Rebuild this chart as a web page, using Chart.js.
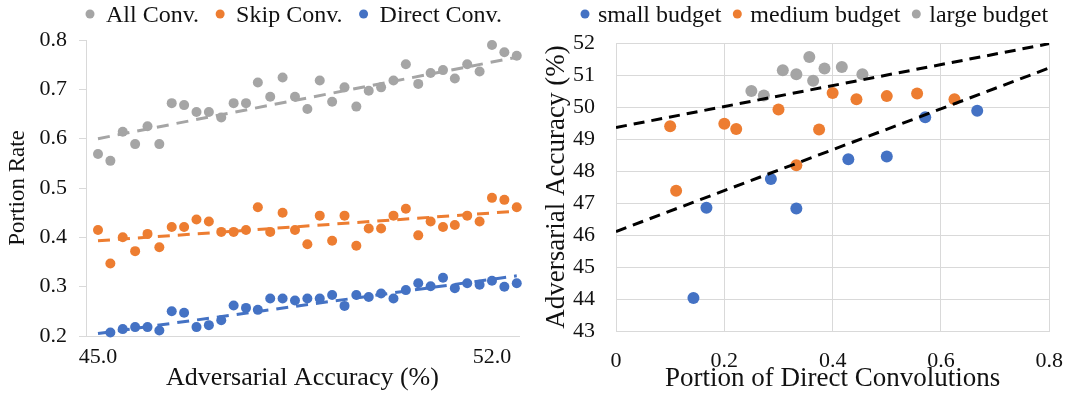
<!DOCTYPE html>
<html>
<head>
<meta charset="utf-8">
<script src="https://cdn.jsdelivr.net/npm/chart.js@4"></script>
<style>
  body { margin: 0; background: #fff; }
  #wrap { position: relative; width: 1080px; height: 397px; }
  .pane { position: absolute; top: 0; width: 540px; height: 397px; }
</style>
</head>
<body>
<div id="wrap">
  <div class="pane" style="left:0"><canvas id="portionChart" width="540" height="397"></canvas></div>
  <div class="pane" style="left:540px"><canvas id="budgetChart" width="540" height="397"></canvas></div>
</div>
<script>
'use strict'

// Left chart: portion rate vs adversarial accuracy
const accuracy = [45.00, 45.22, 45.44, 45.66, 45.88, 46.09, 46.31, 46.53, 46.75, 46.97, 47.19, 47.41,
    47.63, 47.84, 48.06, 48.28, 48.50, 48.72, 48.94, 49.16, 49.38, 49.59, 49.81, 50.03,
    50.25, 50.47, 50.69, 50.91, 51.13, 51.34, 51.56, 51.78, 52.00, 52.22, 52.44]
const allConv = [0.569, 0.555, 0.614, 0.589, 0.625, 0.589, 0.672, 0.668, 0.654, 0.654, 0.643, 0.672,
    0.672, 0.714, 0.685, 0.724, 0.685, 0.660, 0.718, 0.675, 0.704, 0.665, 0.697, 0.704,
    0.718, 0.751, 0.711, 0.733, 0.739, 0.722, 0.751, 0.736, 0.790, 0.775, 0.768]
const skipConv = [0.415, 0.347, 0.400, 0.372, 0.407, 0.380, 0.421, 0.421, 0.436, 0.432, 0.411, 0.411,
    0.415, 0.461, 0.411, 0.450, 0.415, 0.386, 0.444, 0.393, 0.444, 0.383, 0.418, 0.418,
    0.444, 0.458, 0.404, 0.432, 0.421, 0.425, 0.444, 0.432, 0.480, 0.476, 0.461]
const directConv = [null, 0.207, 0.214, 0.218, 0.218, 0.211, 0.250, 0.247, 0.218, 0.222, 0.232, 0.262,
    0.257, 0.253, 0.276, 0.276, 0.272, 0.276, 0.276, 0.283, 0.261, 0.283, 0.279, 0.286,
    0.276, 0.293, 0.307, 0.301, 0.318, 0.297, 0.307, 0.304, 0.312, 0.300, 0.307]
// trend lines, value at first and last accuracy
const allTrend = [0.600, 0.765]
const skipTrend = [0.393, 0.453]
const directTrend = [0.205, 0.322]
const accTicks = [45, 52]

// Right chart: accuracy vs portion of direct convolutions
const smallX = [0.143, 0.167, 0.286, 0.333, 0.429, 0.500, 0.571, 0.667]
const smallY = [44.03, 46.85, 47.75, 46.83, 48.37, 48.45, 49.68, 49.88]
const mediumX = [0.100, 0.111, 0.200, 0.222, 0.300, 0.333, 0.375, 0.400, 0.444, 0.500, 0.556, 0.625]
const mediumY = [49.40, 47.38, 49.48, 49.31, 49.92, 48.18, 49.30, 50.44, 50.24, 50.34, 50.42, 50.24]
const largeX = [0.250, 0.273, 0.308, 0.333, 0.357, 0.364, 0.385, 0.417, 0.455]
const largeY = [50.50, 50.36, 51.15, 51.02, 51.56, 50.82, 51.20, 51.25, 51.02]
const trendX = [0, 0.8]
const upperTrend = [49.36, 51.98]
const lowerTrend = [46.11, 51.22]

const GRAY = '#A5A5A5'
const ORANGE = '#ED7D31'
const BLUE = '#4472C4'
const GRID = '#d9d9d9'
const SERIF = '"Liberation Serif", "Times New Roman", serif'

Chart.defaults.font.family = SERIF
Chart.defaults.color = '#111'

function pts(xs, ys) {
    return xs.map((x, i) => ({x: x, y: ys[i]}))
}

function trend(xs, ys, color, dash) {
    return {
        type: 'line',
        data: pts(xs, ys),
        borderColor: color,
        borderWidth: 3,
        borderDash: dash,
        pointRadius: 0,
        fill: false,
        order: -1
    }
}

function dots(label, xs, ys, color, r) {
    return {
        label: label,
        inLegend: true,
        data: pts(xs, ys),
        backgroundColor: color,
        borderWidth: 0,
        pointRadius: r,
        pointHoverRadius: r,
        clip: false
    }
}

// simple dot legend drawn at the top of each chart
const dotLegend = {
    id: 'dotLegend',
    afterDraw(chart, args, opts) {
        let ctx = chart.ctx
        ctx.save()
        ctx.font = '24px ' + SERIF
        ctx.textBaseline = 'alphabetic'
        let x = opts.x
        chart.data.datasets.forEach(ds => {
            if (!ds.inLegend) return
            ctx.fillStyle = ds.backgroundColor
            ctx.beginPath()
            ctx.arc(x, opts.y - 8, 4.5, 0, Math.PI * 2)
            ctx.fill()
            ctx.fillStyle = '#111'
            ctx.fillText(ds.label, x + opts.textGap, opts.y)
            x += opts.textGap + ctx.measureText(ds.label).width + opts.gap
        })
        ctx.restore()
    }
}

const firstLast = [accuracy[0], accuracy[accuracy.length - 1]]

let portionChart = new Chart(document.getElementById('portionChart'), {
    type: 'scatter',
    data: {
        datasets: [
            trend(firstLast, allTrend, GRAY, [12, 8]),
            trend(firstLast, skipTrend, ORANGE, [12, 8]),
            trend(firstLast, directTrend, BLUE, [12, 8]),
            dots('All Conv.', accuracy, allConv, GRAY, 5),
            dots('Skip Conv.', accuracy, skipConv, ORANGE, 5),
            dots('Direct Conv.', accuracy, directConv, BLUE, 5)
        ]
    },
    plugins: [dotLegend],
    options: {
        responsive: false,
        animation: false,
        devicePixelRatio: 1,
        layout: {padding: {top: 40, right: 21, left: 0, bottom: 3}},
        plugins: {
            legend: {display: false},
            tooltip: {enabled: false},
            dotLegend: {x: 90, y: 22, textGap: 16, gap: 21}
        },
        scales: {
            x: {
                type: 'linear',
                min: 44.787,
                max: 52.48,
                afterBuildTicks: s => { s.ticks = accTicks.map(v => ({value: v})) },
                afterFit: s => { s.height = 58 },
                grid: {display: false},
                border: {display: true, color: GRID},
                ticks: {padding: 0, font: {size: 22}, callback: v => v.toFixed(1)},
                title: {display: true, text: 'Adversarial Accuracy (%)', font: {size: 26}, padding: 0}
            },
            y: {
                min: 0.2,
                max: 0.8,
                afterFit: s => { s.width = 86 },
                grid: {drawOnChartArea: false, drawTicks: true, tickLength: 7, color: GRID},
                border: {display: true, color: GRID},
                ticks: {stepSize: 0.1, padding: 12, font: {size: 22}, callback: v => v.toFixed(1)},
                title: {display: true, text: 'Portion Rate', font: {size: 23}, padding: {top: 4, bottom: 0}}
            }
        }
    }
})

let budgetChart = new Chart(document.getElementById('budgetChart'), {
    type: 'scatter',
    data: {
        datasets: [
            trend(trendX, upperTrend, '#000', [11, 7]),
            trend(trendX, lowerTrend, '#000', [11, 7]),
            dots('small budget', smallX, smallY, BLUE, 6),
            dots('medium budget', mediumX, mediumY, ORANGE, 6),
            dots('large budget', largeX, largeY, GRAY, 6)
        ]
    },
    plugins: [dotLegend],
    options: {
        responsive: false,
        animation: false,
        devicePixelRatio: 1,
        layout: {padding: {top: 43, right: 23, left: 0, bottom: 2}},
        plugins: {
            legend: {display: false},
            tooltip: {enabled: false},
            dotLegend: {x: 45, y: 22, textGap: 13, gap: 16}
        },
        scales: {
            x: {
                min: 0,
                max: 0.8,
                afterFit: s => { s.height = 64 },
                grid: {color: GRID, drawTicks: false},
                border: {color: GRID},
                ticks: {stepSize: 0.2, padding: 17, font: {size: 22}, callback: v => v === 0 ? '0' : v.toFixed(1)},
                title: {display: true, text: 'Portion of Direct Convolutions', font: {size: 27}, padding: 0}
            },
            y: {
                min: 43,
                max: 52,
                afterFit: s => { s.width = 76 },
                grid: {color: GRID, drawTicks: false},
                border: {color: GRID},
                ticks: {stepSize: 1, padding: 21, font: {size: 22}},
                title: {display: true, text: 'Adversarial Accuracy (%)', font: {size: 27}, padding: {top: 1, bottom: 0}}
            }
        }
    }
})
</script>
</body>
</html>
